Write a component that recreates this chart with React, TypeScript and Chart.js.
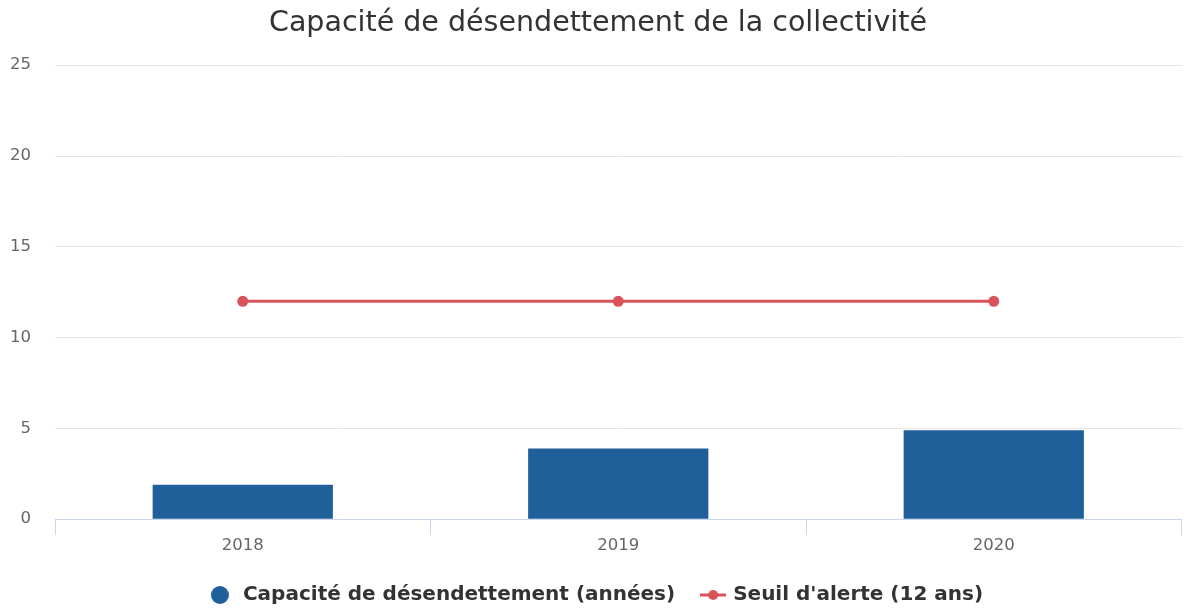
import React, { useEffect, useRef } from "react";
import { Chart, registerables } from "chart.js";

Chart.register(...registerables);

const categories = ["2018", "2019", "2020"];
const capaciteValues = [1.9, 3.9, 4.9];
const seuilValues = [12, 12, 12];
const yTicks = [0, 5, 10, 15, 20, 25];

const BLUE = "#1f5f9a";
const RED = "#d9535b";
const FONT = "'DejaVu Sans', sans-serif";

function makeLineLegendIcon(): HTMLCanvasElement {
  const c = document.createElement("canvas");
  c.width = 26;
  c.height = 12;
  const ctx = c.getContext("2d")!;
  ctx.strokeStyle = RED;
  ctx.lineWidth = 3;
  ctx.beginPath();
  ctx.moveTo(0, 6);
  ctx.lineTo(26, 6);
  ctx.stroke();
  ctx.fillStyle = RED;
  ctx.beginPath();
  ctx.arc(13, 6, 5, 0, Math.PI * 2);
  ctx.fill();
  return c;
}

function makeCircleIcon(): HTMLCanvasElement {
  const c = document.createElement("canvas");
  c.width = 26;
  c.height = 20;
  const ctx = c.getContext("2d")!;
  ctx.fillStyle = BLUE;
  ctx.beginPath();
  ctx.arc(10, 10, 9, 0, Math.PI * 2);
  ctx.fill();
  return c;
}

const legendFitPlugin = {
  id: "legendFit",
  beforeLayout(chart: any) {
    const legend = chart.legend;
    if (legend && !legend.__patched) {
      const orig = legend.fit;
      legend.fit = function () {
        orig.call(this);
        this.height = 51;
      };
      legend.__patched = true;
    }
  },
};

export default function App() {
  const ref = useRef<HTMLCanvasElement | null>(null);

  useEffect(() => {
    if (!ref.current) return;
    const lineIcon = makeLineLegendIcon();
    const circleIcon = makeCircleIcon();
    const chart = new Chart(ref.current, {
      data: {
        labels: categories,
        datasets: [
          {
            type: "bar",
            label: "Capacité de désendettement (années)",
            data: capaciteValues,
            backgroundColor: BLUE,
            borderWidth: 0,
            categoryPercentage: 1,
            barPercentage: 0.48,
            order: 2,
          },
          {
            type: "line",
            label: "Seuil d'alerte (12 ans)",
            data: seuilValues,
            borderColor: RED,
            backgroundColor: RED,
            borderWidth: 3,
            pointRadius: 5.5,
            pointHoverRadius: 5.5,
            pointBackgroundColor: RED,
            pointBorderWidth: 0,
            fill: false,
            order: 1,
          },
        ],
      } as any,
      plugins: [legendFitPlugin],
      options: {
        animation: false,
        responsive: false,
        maintainAspectRatio: false,
        layout: { padding: { left: 10, right: 1, top: 0, bottom: 0 } },
        plugins: {
          title: {
            display: true,
            text: "Capacité de désendettement de la collectivité",
            color: "#333333",
            font: { family: FONT, size: 28.5, weight: "normal" },
            padding: { top: 6, bottom: 25 },
          },
          tooltip: { enabled: false },
          legend: {
            position: "bottom",
            labels: {
              color: "#333333",
              font: { family: FONT, size: 20, weight: "bold" },
              usePointStyle: true,
              boxWidth: 22,
              boxHeight: 20,
              padding: 28,
              generateLabels: (ch: any) => {
                return ch.data.datasets.map((ds: any, i: number) => ({
                  text: ds.label,
                  fillStyle: ds.backgroundColor,
                  strokeStyle: ds.borderColor || ds.backgroundColor,
                  lineWidth: 0,
                  pointStyle: i === 0 ? circleIcon : lineIcon,
                  hidden: false,
                  datasetIndex: i,
                  fontColor: "#333333",
                }));
              },
            },
          },
        },
        scales: {
          x: {
            offset: true,
            grid: {
              display: true,
              offset: true,
              drawOnChartArea: false,
              drawTicks: true,
              tickLength: 16,
              color: "#ccd6eb",
            },
            border: { display: true, color: "#ccd6eb", width: 1 },
            ticks: {
              color: "#666666",
              font: { family: FONT, size: 16.5 },
              padding: 1,
            },
          },
          y: {
            min: 0,
            max: 25,
            afterBuildTicks: (axis: any) => {
              axis.ticks = yTicks.map((v) => ({ value: v }));
            },
            afterFit: (axis: any) => {
              axis.width = 45;
            },
            grid: {
              color: "#e6e6e6",
              drawTicks: false,
            },
            border: { display: false },
            ticks: {
              color: "#666666",
              font: { family: FONT, size: 16.5 },
              padding: 24,
            },
          },
        },
      },
    });
    return () => chart.destroy();
  }, []);

  return (
    <div style={{ position: "fixed", left: 0, top: 0, width: 1187, height: 608, background: "#fff" }}>
      <canvas ref={ref} width={1187} height={608} style={{ width: 1187, height: 608, display: "block" }} />
    </div>
  );
}
